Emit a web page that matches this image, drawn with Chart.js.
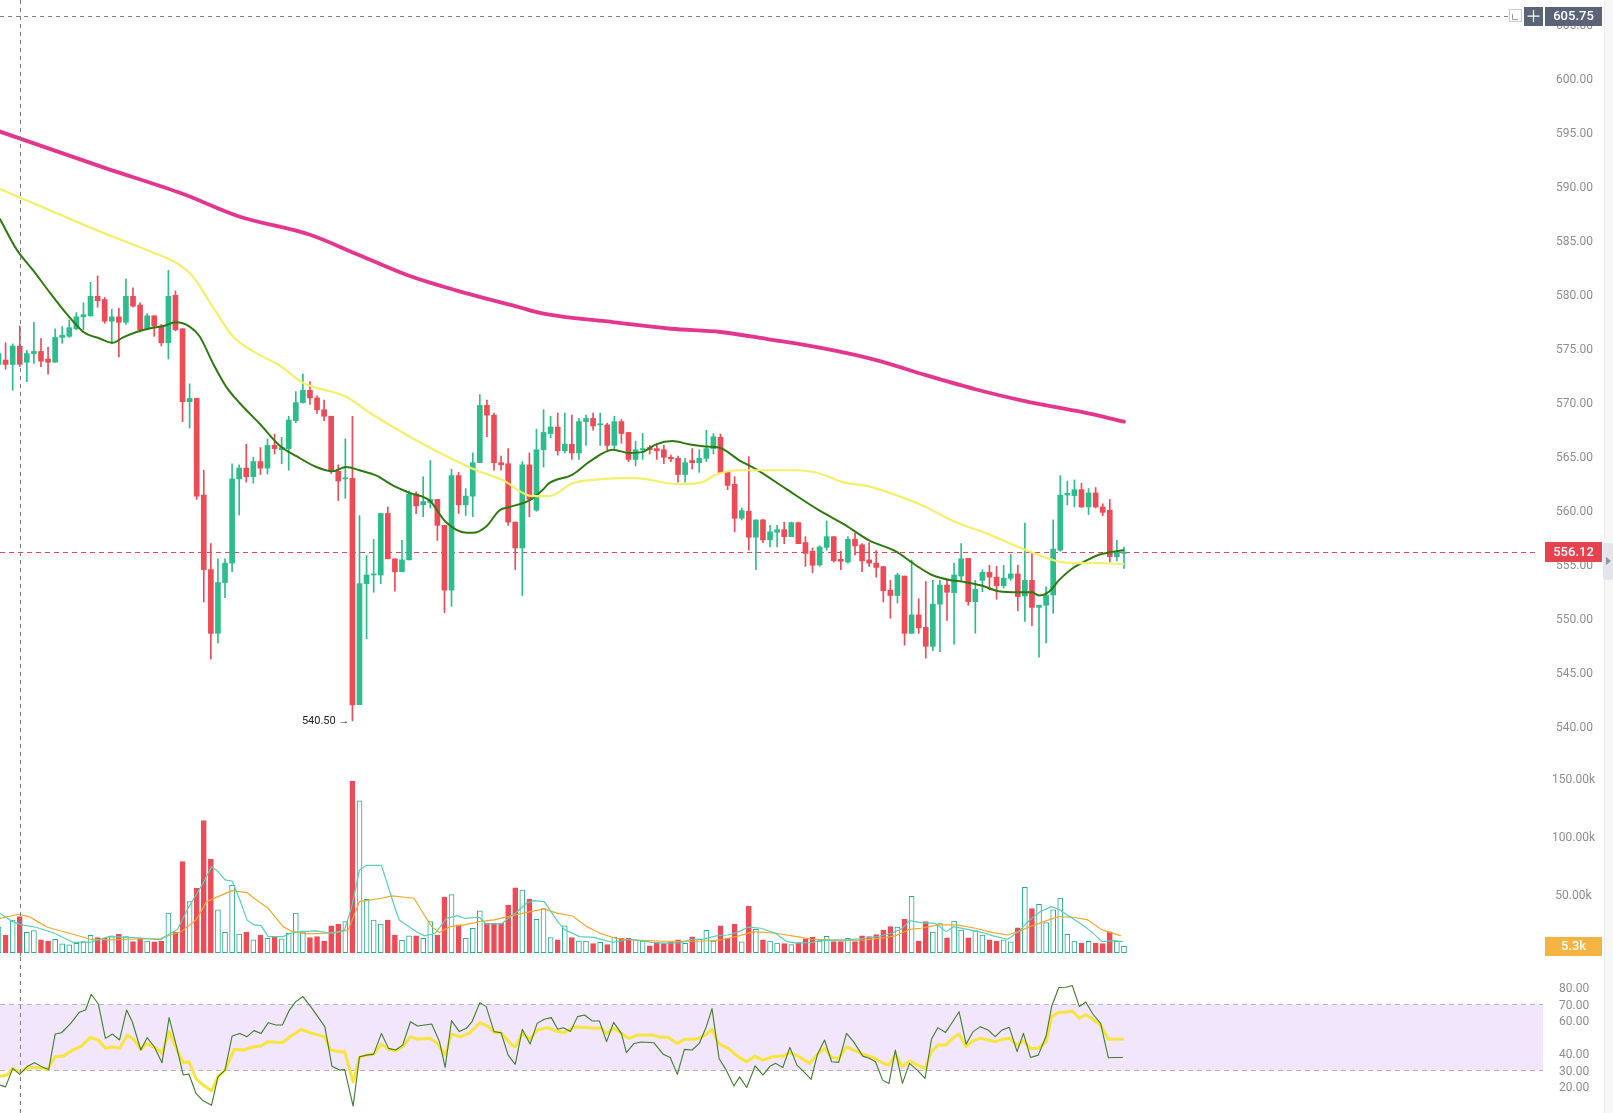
<!DOCTYPE html>
<html>
<head>
<meta charset="utf-8">
<title>Price / Volume / RSI</title>
<script src="https://cdn.jsdelivr.net/npm/chart.js@4.4.1/dist/chart.umd.min.js"></script>
<style>
  html, body { margin: 0; padding: 0; background: #fff; overflow: hidden; }
  #wrap { position: relative; width: 1613px; height: 1113px; font-family: Roboto, sans-serif; }
  #wrap canvas { position: absolute; left: 0; }
  #strip { position: absolute; left: 1604px; top: 0; width: 9px; height: 1113px; background: #f7f7f7; border-left: 1px solid #ececec; }
  #thumb { position: absolute; left: 1603px; top: 543px; width: 10px; height: 37px; background: #e3e5e9; border-radius: 2px; }
  #thumb:after { content: ''; position: absolute; left: 3px; top: 14px; border-left: 5px solid #8d96a6; border-top: 4px solid transparent; border-bottom: 4px solid transparent; }
</style>
</head>
<body>
<div id="wrap">
  <canvas id="priceChart" width="1613" height="760" style="top:0"></canvas>
  <canvas id="volumeChart" width="1613" height="197" style="top:760px"></canvas>
  <canvas id="rsiChart" width="1613" height="156" style="top:957px"></canvas>
  <div id="strip"></div>
  <div id="thumb"></div>
</div>
<script>
// candles, index 1..160
const opens = [
  573.5, 573.9, 573.5, 575.2, 573.7, 574.5, 574.7, 574.0, 573.7, 576.0,
  576.1, 576.8, 577.9, 578.0, 579.8, 579.5, 577.5, 577.9, 577.4, 579.8,
  579.0, 576.8, 578.0, 577.05, 575.5, 579.9, 576.8, 570.05, 570.35, 561.4,
  554.5, 548.6, 553.3, 555.1, 562.9, 563.9, 563.1, 564.5, 563.9, 566.0,
  565.6, 565.7, 568.3, 569.96, 571.1, 570.4, 569.3, 568.7, 563.6, 562.9,
  562.95, 542.0, 553.2, 554.0, 554.0, 559.7, 555.5, 554.3, 555.4, 561.5,
  560.5, 560.7, 561.0, 558.6, 552.6, 563.2, 560.5, 561.3, 564.4, 569.7,
  568.8, 564.4, 564.3, 558.9, 556.5, 564.2, 560.0, 565.6, 567.1, 567.7,
  565.5, 566.1, 565.3, 568.2, 568.5, 567.9, 567.9, 566.0, 568.2, 567.2,
  564.7, 565.6, 565.8, 565.7, 565.6, 564.9, 564.8, 563.3, 564.6, 564.4,
  564.8, 565.7, 566.75, 563.5, 562.4, 559.25, 559.9, 557.5, 559.1, 557.25,
  557.95, 558.2, 557.55, 558.85, 557.0, 556.2, 554.93, 556.56, 557.55, 555.45,
  555.2, 557.3, 556.8, 555.4, 555.1, 554.77, 552.6, 552.1, 553.9, 548.6,
  550.3, 549.15, 547.4, 551.3, 553.07, 552.36, 553.9, 555.54, 551.53, 553.5,
  554.25, 553.8, 553.0, 553.7, 554.1, 552.06, 553.5, 551.0, 551.2, 552.15,
  556.3, 561.4, 561.35, 561.9, 560.3, 561.6, 560.3, 560.0, 555.7, 556.0
];
const highs = [
  575.0, 575.5, 575.4, 577.05, 574.8, 577.4, 575.9, 575.1, 576.8, 577.0,
  577.6, 578.3, 579.2, 581.1, 581.7, 579.7, 578.6, 578.7, 581.4, 580.6,
  579.2, 578.2, 578.0, 577.2, 582.2, 580.3, 576.8, 571.7, 570.35, 563.7,
  556.9, 555.5, 555.5, 564.3, 564.2, 566.1, 564.9, 565.8, 566.6, 567.05,
  566.75, 568.7, 570.98, 572.6, 571.9, 570.6, 570.2, 568.7, 564.2, 566.6,
  568.7, 559.5, 555.8, 557.3, 559.7, 560.3, 555.5, 557.2, 561.8, 561.7,
  563.1, 564.6, 561.0, 558.6, 563.8, 563.5, 562.0, 565.3, 570.7, 570.2,
  569.0, 565.0, 565.7, 558.9, 564.5, 565.3, 567.5, 569.3, 568.7, 569.0,
  569.0, 568.8, 568.5, 568.8, 569.0, 569.0, 568.05, 568.7, 568.4, 567.2,
  566.4, 567.1, 566.0, 566.2, 566.0, 565.1, 565.0, 564.8, 565.7, 565.6,
  567.4, 567.1, 567.06, 563.5, 563.1, 560.2, 564.96, 559.1, 559.15, 558.6,
  558.6, 558.9, 558.9, 558.9, 557.55, 556.5, 556.7, 559.0, 557.55, 556.2,
  557.55, 557.86, 556.9, 557.0, 556.25, 554.8, 553.5, 554.15, 553.9, 555.4,
  551.8, 553.4, 553.5, 553.5, 553.6, 555.1, 556.9, 555.54, 553.5, 554.5,
  554.9, 554.8, 554.9, 555.9, 554.9, 558.8, 556.0, 551.2, 552.9, 559.1,
  563.2, 562.7, 562.8, 562.5, 562.0, 562.1, 560.6, 561.0, 557.2, 556.6
];
const lows = [
  571.8, 573.05, 571.1, 573.3, 571.9, 573.6, 573.3, 572.6, 573.7, 575.45,
  576.0, 576.7, 576.7, 577.95, 578.8, 577.3, 575.4, 574.2, 577.2, 578.8,
  576.5, 576.7, 576.1, 575.2, 574.0, 576.6, 568.2, 567.6, 561.0, 551.5,
  546.2, 547.7, 551.9, 554.3, 559.55, 562.6, 562.5, 563.3, 563.35, 565.2,
  564.3, 563.7, 568.1, 569.9, 569.8, 568.97, 568.3, 563.4, 560.9, 561.1,
  540.5, 542.0, 548.1, 552.4, 553.2, 555.5, 552.5, 554.3, 555.4, 559.7,
  559.4, 560.2, 557.2, 550.5, 551.1, 559.7, 559.5, 559.4, 564.4, 566.8,
  563.7, 563.7, 558.6, 554.5, 552.1, 559.4, 559.9, 564.0, 566.7, 565.1,
  565.3, 564.7, 564.7, 566.0, 567.4, 566.0, 565.6, 565.6, 566.2, 564.5,
  564.1, 564.7, 565.2, 564.7, 564.3, 564.5, 562.6, 562.6, 563.8, 563.5,
  564.5, 565.2, 563.5, 561.9, 558.0, 559.1, 556.3, 554.5, 557.0, 556.6,
  556.6, 556.9, 557.55, 556.9, 554.8, 554.2, 554.8, 556.3, 555.2, 554.5,
  555.1, 555.85, 554.3, 554.8, 553.8, 551.5, 550.0, 551.4, 547.5, 548.6,
  548.6, 546.3, 547.0, 546.9, 549.8, 547.6, 553.5, 551.2, 548.6, 552.45,
  552.6, 551.75, 552.8, 553.5, 550.7, 549.7, 549.3, 546.4, 547.7, 550.45,
  556.2, 560.5, 560.3, 560.25, 559.6, 560.2, 559.5, 555.2, 555.3, 554.6
];
const closes = [
  574.5, 573.5, 575.2, 573.5, 574.5, 574.7, 573.8, 573.7, 576.0, 576.2,
  576.9, 577.9, 578.1, 579.8, 579.4, 577.5, 577.9, 577.4, 579.8, 578.9,
  576.7, 578.0, 577.05, 575.5, 579.8, 576.7, 570.05, 570.35, 561.3, 554.5,
  548.6, 553.3, 555.1, 562.9, 563.9, 563.1, 564.5, 563.9, 566.0, 565.7,
  565.8, 568.35, 569.96, 571.1, 570.4, 569.3, 568.7, 563.6, 562.7, 563.0,
  541.96, 553.2, 554.0, 554.1, 559.7, 555.5, 554.3, 555.4, 561.5, 560.4,
  560.8, 561.0, 558.6, 552.6, 563.2, 560.5, 561.3, 564.4, 569.7, 568.8,
  564.4, 564.2, 558.9, 556.5, 564.2, 561.0, 565.6, 567.2, 567.7, 565.5,
  566.1, 565.3, 568.2, 568.5, 567.8, 568.0, 566.0, 568.2, 567.1, 564.7,
  565.6, 565.7, 565.6, 565.5, 564.9, 564.75, 563.3, 564.4, 564.4, 564.8,
  565.7, 566.8, 563.5, 562.3, 559.25, 559.96, 557.5, 559.1, 557.25, 558.0,
  558.2, 557.55, 558.85, 556.9, 556.0, 554.9, 556.6, 557.55, 555.33, 555.27,
  557.3, 556.7, 555.3, 555.1, 554.7, 552.55, 552.1, 554.0, 548.6, 550.3,
  549.1, 547.4, 551.3, 553.07, 552.4, 554.0, 555.5, 551.53, 552.67, 554.25,
  553.8, 553.0, 553.7, 554.1, 552.0, 553.5, 551.0, 551.2, 552.15, 556.4,
  561.4, 561.56, 561.9, 560.3, 561.6, 560.3, 559.8, 555.7, 556.1, 556.12
];
// volume in thousands
const volumes = [
  22, 15, 28, 31, 17.5, 19, 11, 10, 11.5, 7.5,
  6.6, 8, 9.5, 15, 13, 12.4, 14.4, 15.8, 13.8, 9.5,
  12.4, 10, 9.2, 9.8, 34, 17.8, 78.5, 44, 55.5, 114,
  80.5, 36.8, 17.5, 58, 16, 17.8, 11, 15.2, 12.4, 13.8,
  11.8, 16.7, 34, 18, 13, 13.8, 10, 23, 24.7, 26.7,
  148, 131, 46, 28, 24.7, 28, 15.2, 10.6, 14.4, 14.4,
  12.4, 26.7, 15.2, 48, 50, 23.9, 12.4, 21, 36, 25.3,
  25.3, 25.3, 41, 55.8, 54, 46, 28.8, 38, 13, 11,
  23, 13, 10, 10, 7.8, 8.9, 6.9, 13.2, 12.4, 12.4,
  11, 10, 5.8, 8.6, 7.8, 9.2, 11, 8, 13.5, 11.5,
  19.3, 10, 23, 12.4, 24.7, 9.2, 40, 20, 11, 10,
  8.3, 7.8, 6.9, 8.6, 11.8, 13.2, 10, 14, 9.5, 9.5,
  12.4, 9.5, 14.4, 13.8, 15.5, 19.5, 22.4, 22, 29, 48.6,
  10, 26.7, 17.8, 25, 12.7, 27.3, 19.5, 12.7, 19, 15.2,
  11, 10, 11, 9.2, 21.3, 56.4, 38, 41.7, 26, 36.8,
  47, 15.8, 10, 8.3, 9.8, 8.3, 7.8, 18, 9.8, 5.3
];

// moving averages: [candle index, value]
const maPink = [[1,595.1],[16,591.7],[27,589.3],[35,587.2],[45,585.5],[52,583.6],[59,581.7],[67,580.1],[74,578.9],[78,578.2],[88,577.4],[96,576.8],[103,576.5],[110,575.8],[117,575.05],[125,573.9],[132,572.5],[139,571.2],[146,570.1],[154,569.1],[160,568.2]];
const maYellow = [[1,589.8],[8.5,587.7],[15.7,585.7],[21.9,584.1],[26.6,582.7],[28.5,581.6],[31.3,578.8],[34.1,576.1],[37,574.7],[40.7,573.4],[44,571.8],[50.1,570.5],[53.5,569.0],[59.1,566.8],[64.3,565.0],[68.5,563.7],[72.2,562.8],[76.4,561.3],[78.8,561.3],[82.1,562.5],[84.9,562.8],[90.6,563.0],[97.2,562.4],[100.4,562.6],[102.4,563.3],[105.7,563.7],[110.4,563.7],[113.7,563.7],[117,563.4],[120.2,562.6],[124,562.2],[128.2,561.3],[132,560.3],[136.2,558.9],[140.4,557.9],[144.7,556.7],[148,555.85],[151.2,555.2],[154.6,555.1],[156.5,555.1],[159.9,555.0]];
const maGreen = [[1.2,586.96],[3.6,584.1],[5.9,582.2],[8.3,580.1],[10.6,578.2],[13,576.5],[15.3,575.9],[17.1,575.5],[18.6,576.0],[20.5,576.5],[22.8,576.9],[24.3,577.05],[26,577.4],[28,577.0],[29.4,576.1],[31.3,573.6],[33.2,571.4],[35.1,569.9],[37.9,568.0],[40.7,566.0],[43.1,565.0],[45.9,564.0],[48.2,563.6],[50.1,564.0],[52,563.7],[54.4,563.2],[56.7,562.3],[59.1,561.6],[61.9,560.9],[64.2,558.9],[67.1,557.9],[68,557.9],[69.9,558.5],[71.8,560.0],[73.2,560.3],[76,560.9],[77.9,561.9],[78.8,562.5],[82.1,563.3],[84.5,564.5],[87.8,565.6],[90.1,565.3],[92,565.4],[93.9,566.1],[96.2,566.4],[98.6,566.1],[100.9,565.9],[102.8,565.8],[105.7,564.6],[108,563.8],[112.2,562.0],[116.9,560.0],[120.7,558.6],[124,557.2],[127.7,556.2],[130.6,554.9],[132.9,554.0],[135.7,553.5],[137.1,553.4],[140,553.0],[142.3,552.5],[145.2,552.4],[147,552.4],[148,552.1],[149.4,552.45],[150.8,553.5],[152.7,554.6],[154.6,555.3],[156.4,555.85],[159.9,556.3]];

const volMaTeal = [[1.2,33.9],[3,26.7],[4.3,23.9],[6.3,21.9],[8.9,16.7],[11.5,8.9],[14,8.9],[16.6,13.8],[19.2,13.2],[21.7,12.4],[23.8,10.9],[24.8,14.7],[26.3,20.1],[27.9,39.7],[29.9,59.8],[31.1,74.2],[32,69.9],[33,62.7],[34,61.8],[35.1,45.4],[36.1,28.2],[37.1,23.9],[38.1,23.3],[39.1,13.8],[41.2,13.8],[42.2,16.7],[43.8,18.1],[45.8,18.7],[47.4,17.3],[48.4,16.7],[49.9,19.6],[50.9,39.7],[52,71.3],[53,75.3],[55.1,75.3],[57.1,36.8],[57.6,28.2],[60.2,17.3],[61.2,14.4],[62.7,16.7],[64.3,29.6],[65.8,31.9],[66.8,29.6],[68.9,30.5],[69.9,24.7],[72,24.7],[74,33.9],[75.6,42.6],[76.6,44.9],[78.1,44],[80,26.7],[81,19.6],[83.1,13.8],[85.1,13.2],[87.7,8.9],[90.3,11.5],[93.3,8.9],[95.4,8.1],[97.4,8.6],[99,11.5],[100.5,11.5],[102.6,14.7],[104.1,15.2],[105.6,18.1],[106.9,21.9],[108.7,21],[110.8,16.7],[112.3,9.5],[113.8,8.1],[115.9,8.6],[116.9,10.4],[121,10.9],[123.6,12.4],[125.1,13.8],[127.2,16.7],[128.7,21],[129.7,27.6],[131.3,25.9],[133.3,25.3],[134.9,18.1],[135.9,22.4],[137.9,20.1],[140,17.3],[141.5,14.4],[143.6,11.5],[145.1,18.1],[146.7,28.2],[148.2,35.4],[149.7,39.7],[150.8,37.4],[152.3,31.1],[153.8,25.3],[155.4,18.1],[156.9,9.5],[158.5,10.4],[159.8,9.5]];
const volMaOrange = [[1.2,29.6],[3.8,33.1],[5.3,31.1],[6.3,27.6],[7.9,21.9],[11.5,15.8],[14,11.5],[16.6,10.9],[19.2,11.5],[21.7,11.8],[23.8,11.8],[25.3,15.2],[26.8,18.1],[28.9,28.2],[30.4,44],[32,48.3],[34,53.5],[36.1,51.8],[37.1,46.9],[39.1,38.2],[41.2,22.4],[42.2,19],[44.3,16.1],[47.4,16.7],[49.4,18.1],[50.4,19.6],[52,44],[55.1,46.9],[56.6,48.9],[59.7,46.9],[60.7,36.8],[62.2,22.4],[63.3,17.3],[64.8,22.4],[66.8,23.9],[68.9,26.7],[71,28.2],[73,31.1],[75,33.9],[78.1,37.7],[80,33.9],[82.1,31.6],[84.1,22.4],[86.2,16.1],[88.2,12.4],[90.3,10.9],[92.8,10.4],[95.4,9.8],[100.5,9.8],[103.1,10.9],[105.6,14.4],[107.7,18.1],[110.8,16.7],[113.8,13.8],[115.9,11.5],[121,10.6],[123.6,10.9],[126.2,12.9],[127.7,14.4],[129.7,20.1],[131.3,21],[133.8,23.9],[136.4,23.9],[139,21],[141.5,17.3],[143.6,15.2],[145.1,18.1],[146.7,22.4],[148.7,26.7],[150.8,31.1],[152.8,30.5],[154.9,28.2],[156.9,19.6],[159.5,14.7]];

const rsiLine = [[1.2,20.9],[2,19.8],[3,31],[4,27.4],[5.1,32.4],[6.1,34.5],[7.1,32.1],[8.1,30.4],[9,51.9],[9.9,52.7],[11.2,58.4],[12.4,65.1],[13.3,66.5],[14.1,76.1],[15.1,70.2],[16.1,49.3],[17.1,51.9],[18.1,48.3],[19.1,66.5],[19.9,59.4],[21.1,42.2],[22,49.7],[23,44.2],[24.1,34.5],[25.1,61.9],[26.1,45.2],[27.1,27],[27.9,27.6],[28.9,15.8],[29.9,11.3],[31.1,8.7],[32,25.9],[33,30],[34,50.7],[35.1,52.3],[36.1,50.3],[37.1,54],[38.1,52.3],[39.1,58.8],[40.2,57.4],[41.1,57.4],[42.1,66.5],[43,71.6],[44,74.7],[45.1,68.6],[46.1,62.5],[47.1,56.4],[48.1,32.4],[49.2,30],[49.9,30.4],[51.1,8.1],[52,38.1],[53,39.1],[54,39.7],[55.1,52.3],[56.1,43.2],[57.1,42.2],[58.1,45.2],[59.2,59.4],[60.2,56.8],[61.2,57.4],[62.2,58],[63.3,47.3],[64.1,31.6],[65,60.1],[66.1,53.4],[67.1,55.4],[67.9,59.4],[69,71],[69.9,68.6],[71,53.4],[72,52.7],[73,39.1],[74,33.5],[75,54.8],[76.1,45.8],[77.1,58.4],[78.1,60.9],[79.1,61.9],[80,54.8],[80.8,55.8],[81.8,53.4],[82.8,62.5],[83.8,63.5],[84.9,59.8],[85.9,59.8],[86.9,47.3],[87.9,59],[89,52.3],[89.7,40.6],[90.8,46.2],[91.8,47.1],[93.6,46.6],[94.9,39.7],[95.9,37.7],[96.9,27.4],[97.9,42.6],[99,42.2],[100,46.2],[101,56.4],[101.8,67.4],[102.8,37.1],[103.8,30],[104.9,20.3],[105.7,25.9],[106.7,19.4],[107.9,32.6],[109,27],[110,32.4],[110.8,34.1],[111.8,31.6],[112.8,43.8],[113.8,33],[114.9,28.4],[115.8,24.3],[116.7,39.7],[117.7,48.3],[118.7,35.1],[119.7,34.7],[120.8,52.3],[121.8,47.3],[123.1,38.5],[124.1,37.1],[124.9,35.1],[125.9,23.9],[126.8,21.9],[127.7,42.2],[128.7,21.9],[129.7,34.1],[130.8,30],[131.9,24.9],[132.8,48.7],[133.7,55.8],[134.8,52.9],[135.8,59.4],[136.7,65.5],[137.7,45.8],[138.7,53.4],[139.7,56.4],[140.8,54.4],[141.8,50.3],[142.8,54.4],[143.8,56],[144.9,41.2],[145.8,52.3],[146.8,37.7],[147.9,39.1],[149,50.7],[149.8,69],[150.8,80.2],[151.8,80.4],[152.7,81.4],[153.7,68.6],[154.6,71.4],[155.6,64.1],[156.7,58.4],[157.8,37.5],[158.7,37.7],[159.8,37.7]];
const rsiSignal = [[1.2,26.3],[2.2,27],[3,31],[4,29],[5.3,31.6],[6.8,31.6],[7.9,30.4],[9,38.1],[10.2,38.5],[11.5,42.2],[12.7,44.6],[14,49.9],[15.1,48.3],[16.1,43.2],[17.1,44.2],[18.1,43.2],[19.2,51.3],[20.2,48.3],[21.1,42.6],[22,46.2],[23.3,43.2],[24.1,40.2],[25.1,53.4],[26.1,43.2],[27.1,34.5],[27.9,35.1],[28.9,24.9],[29.9,20.9],[31.1,17.4],[32,25.9],[33,30],[34.3,42.6],[35.6,42.2],[37.1,44.2],[38.1,44.6],[39.1,47.3],[41.1,46.6],[42.2,50.3],[43.8,54.8],[45.3,52.3],[47.1,50.3],[47.9,42.2],[49.2,41.2],[49.9,41.2],[51.1,22.9],[52,37.7],[53,39.1],[54,39.7],[55.1,45.8],[56.1,42.6],[57.1,41.8],[58.1,44.2],[59.2,50.3],[60.2,48.7],[62,49.3],[63,46.2],[64.1,39.1],[65,51.9],[66.3,50.3],[67.6,52.7],[69,58.8],[70.2,56.4],[71,52.9],[72,52.7],[73.5,45.2],[74,44.2],[75,52.3],[76.1,48.7],[77.1,54.4],[78.6,55.8],[80,53.4],[81,52.7],[82.3,56.4],[83.6,56],[85.1,55.4],[86.2,55.4],[86.9,52.3],[87.9,55.4],[89,52.3],[90,49.3],[91.3,51.3],[93.3,51.3],[94.6,49.9],[95.6,49.9],[96.9,46.2],[97.9,48.7],[99.7,48.9],[101,51.7],[101.8,54.8],[102.8,45.8],[104.1,43.2],[105.4,38.5],[106.7,35.1],[107.9,38.5],[109,36.1],[110.3,38.1],[111.8,38.5],[112.8,40.6],[114.1,38.1],[115.6,34.1],[116.7,39.7],[117.7,43.2],[118.7,37.7],[119.7,37.1],[120.8,44.2],[121.8,42.2],[123.1,39.7],[124.6,37.7],[126.2,33.7],[126.8,33],[127.7,39.7],[128.7,32],[129.7,35.7],[130.8,33],[131.9,31],[132.8,41.2],[133.7,45.2],[134.8,45.2],[135.8,49.3],[136.7,51.9],[137.7,44.2],[138.7,47.9],[139.7,49.3],[140.8,48.3],[141.8,47.3],[142.8,48.7],[143.8,49.3],[144.9,45.2],[145.8,47.9],[146.8,43.2],[147.9,43.2],[149,47.3],[149.8,62.5],[150.8,65.1],[151.8,65.1],[152.7,65.9],[153.7,61.5],[154.6,63.7],[155.6,60.9],[156.7,57.4],[157.8,48.7],[158.7,48.7],[159.8,48.7]];

// axis ticks
const priceTicks = [540, 545, 550, 555, 560, 565, 570, 575, 580, 585, 590, 595, 600, 605];
const volumeTicks = [50, 100, 150];
const rsiTicks = [20, 30, 40, 60, 70, 80];
const rsiBand = [30, 70];

// markers
const crossIdx = 4;
const crossPrice = 605.75;
const lastPrice = 556.12;
const lastVolume = 5.3;
const lowMark = { idx: 51, price: 540.50 };

const X_MIN = 1.21, X_MAX = 219.2;
const UP = '#2dbd8d', DOWN = '#ec4b58';
const FONT = 'Roboto, sans-serif';

const idx = opens.map((_, i) => i + 1);
const isUp = idx.map((_, i) => closes[i] >= opens[i]);
const candleColors = isUp.map(u => u ? UP : DOWN);
const pts = arr => arr.map(([x, y]) => ({ x, y }));

function baseOptions(yMin, yMax, ticks, fmt, pad) {
  return {
    responsive: false,
    animation: false,
    devicePixelRatio: 1,
    events: [],
    layout: { padding: { left: 0, right: 8, top: 0, bottom: 0 } },
    plugins: { legend: { display: false }, tooltip: { enabled: false } },
    scales: {
      x: { type: 'linear', min: X_MIN, max: X_MAX, display: false, offset: false },
      y: {
        position: 'right', min: yMin, max: yMax,
        grid: { display: false, drawTicks: false },
        border: { display: false },
        afterBuildTicks: s => { s.ticks = ticks.map(v => ({ value: v })); },
        afterFit: s => { s.width = 62; s.paddingTop = 0; s.paddingBottom = 0; },
        ticks: { callback: fmt, color: '#8e8e8e', font: { family: FONT, size: 12 }, padding: pad, labelOffset: 1.5, crossAlign: 'center', autoSkip: false }
      }
    }
  };
}

function tag(ctx, x, yc, w, h, bg, text) {
  ctx.fillStyle = bg;
  ctx.fillRect(x, Math.round(yc - h / 2), w, h);
  ctx.fillStyle = '#fff';
  ctx.font = '500 13px ' + FONT;
  ctx.textAlign = 'center';
  ctx.textBaseline = 'middle';
  ctx.fillText(text, x + w / 2, yc + 0.5);
}

const crosshair = {
  id: 'crosshair',
  afterDatasetsDraw(chart) {
    const ctx = chart.ctx;
    const x = Math.round(chart.scales.x.getPixelForValue(crossIdx)) + 0.5;
    ctx.save();
    ctx.strokeStyle = '#7c7c7c';
    ctx.lineWidth = 1;
    ctx.setLineDash([4, 4]);
    ctx.beginPath(); ctx.moveTo(x, 0); ctx.lineTo(x, chart.height); ctx.stroke();
    ctx.restore();
  }
};

const priceMarks = {
  id: 'priceMarks',
  beforeDatasetsDraw(chart) {
    const { ctx, chartArea: a, scales: { y } } = chart;
    const ly = Math.round(y.getPixelForValue(lastPrice)) + 0.5;
    ctx.save();
    ctx.strokeStyle = '#e8455a';
    ctx.lineWidth = 1;
    ctx.setLineDash([5, 4]);
    ctx.beginPath(); ctx.moveTo(a.left, ly); ctx.lineTo(a.right - 6, ly); ctx.stroke();
    ctx.restore();
  },
  afterDatasetsDraw(chart) {
    const { ctx, chartArea: a, scales: { x, y } } = chart;
    ctx.save();
    // horizontal crosshair
    const cy = Math.round(y.getPixelForValue(crossPrice)) + 0.5;
    ctx.strokeStyle = '#7c7c7c';
    ctx.setLineDash([4, 4]);
    ctx.beginPath(); ctx.moveTo(a.left, cy); ctx.lineTo(a.right - 34, cy); ctx.stroke();
    ctx.setLineDash([]);
    // low annotation
    ctx.fillStyle = '#222';
    ctx.font = '11px ' + FONT;
    ctx.textAlign = 'right';
    ctx.textBaseline = 'middle';
    ctx.fillText('540.50 \u2192', x.getPixelForValue(lowMark.idx) - 3, y.getPixelForValue(lowMark.price));
    ctx.restore();
  },
  afterDraw(chart) {
    const { ctx, chartArea: a, scales: { y } } = chart;
    ctx.save();
    tag(ctx, a.right + 2, y.getPixelForValue(lastPrice), 57, 20, '#e8424f', lastPrice.toFixed(2));
    const cy = y.getPixelForValue(crossPrice);
    tag(ctx, a.right + 2, cy, 57, 19, '#5a6476', crossPrice.toFixed(2));
    // plus button
    ctx.fillStyle = '#5a6476';
    ctx.fillRect(a.right - 19, Math.round(cy - 9.5), 19, 19);
    ctx.strokeStyle = '#fff';
    ctx.lineWidth = 1.2;
    ctx.beginPath();
    ctx.moveTo(a.right - 9.5, cy - 6); ctx.lineTo(a.right - 9.5, cy + 6);
    ctx.moveTo(a.right - 15.5, cy); ctx.lineTo(a.right - 3.5, cy);
    ctx.stroke();
    // small icon
    ctx.strokeStyle = '#c9c9c9';
    ctx.lineWidth = 1;
    ctx.strokeRect(a.right - 33.5, Math.round(cy - 7) + 0.5, 12, 12);
    ctx.strokeStyle = '#999';
    ctx.beginPath();
    ctx.moveTo(a.right - 30.5, cy - 2); ctx.lineTo(a.right - 30.5, cy + 3.5); ctx.lineTo(a.right - 25, cy + 3.5);
    ctx.stroke();
    ctx.restore();
  }
};

const volumeMarks = {
  id: 'volumeMarks',
  afterDraw(chart) {
    const { ctx, chartArea: a, scales: { y } } = chart;
    ctx.save();
    tag(ctx, a.right + 2, y.getPixelForValue(lastVolume), 57, 19, '#f5b342', lastVolume.toFixed(1) + 'k');
    ctx.restore();
  }
};

const rsiBandPlugin = {
  id: 'rsiBand',
  beforeDatasetsDraw(chart) {
    const { ctx, chartArea: a, scales: { y } } = chart;
    const top = Math.round(y.getPixelForValue(rsiBand[1])) + 0.5;
    const bot = Math.round(y.getPixelForValue(rsiBand[0])) + 0.5;
    ctx.save();
    ctx.fillStyle = '#f1e6fc';
    ctx.fillRect(a.left, top, a.right - a.left, bot - top);
    ctx.strokeStyle = '#b4b4b4';
    ctx.lineWidth = 1;
    ctx.setLineDash([5, 4]);
    ctx.beginPath();
    ctx.moveTo(a.left, top); ctx.lineTo(a.right, top);
    ctx.moveTo(a.left, bot); ctx.lineTo(a.right, bot);
    ctx.stroke();
    ctx.restore();
  }
};

function lineSet(data, color, width, order, smooth) {
  return {
    type: 'line', data: pts(data), borderColor: color, borderWidth: width,
    pointRadius: 0, fill: false, order,
    cubicInterpolationMode: smooth ? 'monotone' : 'default', tension: 0,
    borderJoinStyle: 'round', borderCapStyle: 'round'
  };
}

// price pane
new Chart(document.getElementById('priceChart'), {
  type: 'bar',
  data: {
    datasets: [
      lineSet(maPink, '#e4358f', 3.8, 0, true),
      lineSet(maYellow, '#f6ef6c', 2.2, 0, true),
      lineSet(maGreen, '#2f7a10', 2, 0, true),
      {
        type: 'bar', order: 2, grouped: false, barThickness: 1,
        data: idx.map((i, k) => ({ x: i, y: [lows[k], highs[k]] })),
        backgroundColor: candleColors, borderWidth: 0
      },
      {
        type: 'bar', order: 1, grouped: false, barThickness: 5, minBarLength: 1,
        data: idx.map((i, k) => ({ x: i, y: [opens[k], closes[k]] })),
        backgroundColor: candleColors, borderWidth: 0
      }
    ]
  },
  options: baseOptions(536.87, 607.24, priceTicks, v => v.toFixed(2), 13),
  plugins: [priceMarks, crosshair]
});

// volume pane
new Chart(document.getElementById('volumeChart'), {
  type: 'bar',
  data: {
    datasets: [
      lineSet(volMaTeal, '#56d0b6', 1.2, 0, false),
      lineSet(volMaOrange, '#f3a82c', 1.2, 0, false),
      {
        type: 'bar', order: 1, grouped: false, barThickness: 5,
        data: idx.map((i, k) => ({ x: i, y: volumes[k] })),
        backgroundColor: isUp.map(u => u ? '#ffffff' : DOWN),
        borderColor: isUp.map(u => u ? '#27ae88' : DOWN),
        borderWidth: 1, borderSkipped: false
      }
    ]
  },
  options: baseOptions(-3.8, 166.2, volumeTicks, v => v.toFixed(2) + 'k', 9),
  plugins: [volumeMarks, crosshair]
});

// rsi pane
new Chart(document.getElementById('rsiChart'), {
  type: 'line',
  data: {
    datasets: [
      lineSet(rsiSignal, '#f7e43c', 3, 1, false),
      lineSet(rsiLine, '#3f7d2a', 1.1, 0, false)
    ]
  },
  options: baseOptions(3.92, 98.75, rsiTicks, v => v.toFixed(2), 16),
  plugins: [rsiBandPlugin, crosshair]
});
</script>
</body>
</html>
